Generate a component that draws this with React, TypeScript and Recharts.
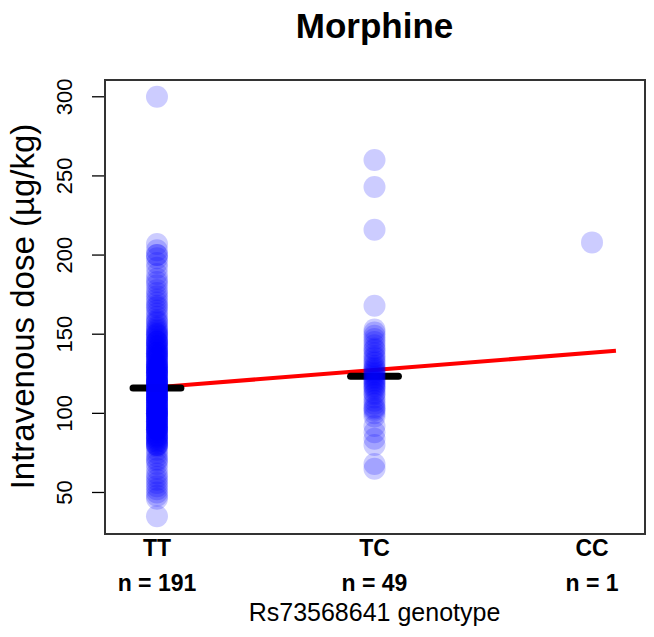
import {
  ReferenceLine,
  Scatter,
  ScatterChart,
  XAxis,
  YAxis,
} from "recharts";

const genotypes = ["TT", "TC", "CC"];
const counts = [191, 49, 1];
const xTicks = [1, 2, 3];
const yTicks = [50, 100, 150, 200, 250, 300];

// Intravenous morphine dose per patient (µg/kg)
const ttDoses = [
  300, 207, 203, 200, 200, 198, 195,
  192, 188, 185, 183, 181,
  178, 176, 174, 172, 170, 168, 167, 165, 163, 161,
  159, 158, 157, 155, 154, 153, 152, 151, 150, 150,
  149, 148, 147, 146, 145, 145, 144, 143, 142, 141, 140, 140,
  139, 138, 138, 137, 136, 135, 135, 134, 133, 132, 131, 130, 130, 130,
  129, 128, 128, 127, 126, 125, 125, 125, 124, 123, 122, 122, 121, 120, 120, 120, 120,
  119, 118, 118, 117, 116, 115, 115, 115, 114, 113, 112, 112, 111, 110, 110, 110, 110,
  109, 108, 108, 107, 106, 105, 105, 105, 104, 103, 102, 102, 101, 100, 100, 100, 100, 100,
  99, 98, 98, 97, 96, 95, 95, 95, 94, 93, 92, 92, 91, 90, 90, 90, 90,
  89, 88, 87, 86, 85, 85, 84, 83, 82, 81, 80, 80, 80,
  79, 77, 75, 73, 71, 70,
  68, 65, 62, 60, 58, 56,
  54, 52, 50, 48, 46, 35,
  145, 142, 138, 136, 133, 131, 128, 126, 124, 121, 119, 117, 116, 114, 113, 111,
  109, 107, 106, 104, 103, 101, 99, 97, 96, 94, 93, 91, 88, 86, 84, 82, 127,
];
const tcDoses = [
  260, 243, 216, 168,
  153, 151, 149, 147, 145, 143, 141, 140,
  138, 136, 135, 133, 132, 130,
  129, 128, 127, 126, 125, 124, 123, 122, 121, 120,
  119, 118, 117, 116, 115, 113, 112, 110,
  108, 106, 104, 103, 102, 100,
  98, 92, 88, 84, 80, 68, 65,
];
const ccDoses = [208];

const groupMeans = [116, 123.5];
const meanHalfWidth = 0.11;
const fitX = [0.89, 3.11];
const fitY = [115.3, 139.5];

const FONT = '"Liberation Sans", Arial, Helvetica, sans-serif';

const toPoints = (vals: number[], x: number) => vals.map((y) => ({ x, y }));

const Dot = (p: any) => (
  <circle cx={p.cx} cy={p.cy} r={11} fill="#0000ff" fillOpacity={0.2} />
);

function GenotypeTick({ x, y, payload }: any) {
  const i = xTicks.indexOf(payload.value);
  const st = { fontFamily: FONT, fontWeight: 700, fontSize: 23 };
  return (
    <g>
      <text x={x} y={y + 23} textAnchor="middle" fill="#000" style={st}>
        {genotypes[i]}
      </text>
      <text x={x} y={y + 58} textAnchor="middle" fill="#000" style={st}>
        n = {counts[i]}
      </text>
    </g>
  );
}

function DoseTick({ x, y, payload }: any) {
  const bx = x - 18;
  return (
    <text
      x={bx}
      y={y}
      transform={`rotate(-90, ${bx}, ${y})`}
      textAnchor="middle"
      fill="#000"
      style={{ fontFamily: FONT, fontSize: 22 }}
    >
      {payload.value}
    </text>
  );
}

export default function App() {
  return (
    <div
      style={{
        position: "absolute",
        left: 0,
        top: 0,
        width: 654,
        height: 637,
        background: "#fff",
      }}
    >
      <div
        style={{
          position: "absolute",
          left: 105,
          width: 539,
          top: 6,
          textAlign: "center",
          fontFamily: FONT,
          fontWeight: "bold",
          fontSize: 35,
          lineHeight: "40px",
        }}
      >
        Morphine
      </div>
      <ScatterChart
        width={654}
        height={637}
        margin={{ top: 80, right: 10, bottom: 0, left: 0 }}
      >
        <XAxis
          type="number"
          dataKey="x"
          domain={[0.761, 3.239]}
          ticks={xTicks}
          allowDataOverflow
          height={104}
          axisLine={false}
          tickLine={false}
          tickSize={0}
          tickMargin={0}
          tick={<GenotypeTick />}
          label={{
            content: ({ viewBox }: any) => (
              <text
                x={viewBox.x + viewBox.width / 2}
                y={viewBox.y + 88}
                textAnchor="middle"
                fill="#000"
                style={{ fontFamily: FONT, fontSize: 25 }}
              >
                Rs73568641 genotype
              </text>
            ),
          }}
        />
        <YAxis
          type="number"
          dataKey="y"
          domain={[24.4, 310.6]}
          ticks={yTicks}
          allowDataOverflow
          width={105}
          axisLine={false}
          tickLine={{ stroke: "#000", strokeWidth: 1.3 }}
          tickSize={13}
          tickMargin={2}
          tick={<DoseTick />}
          label={{
            content: ({ viewBox }: any) => {
              const cx = 34;
              const cy = viewBox.y + viewBox.height / 2;
              return (
                <text
                  x={cx}
                  y={cy}
                  transform={`rotate(-90, ${cx}, ${cy})`}
                  textAnchor="middle"
                  fill="#000"
                  style={{ fontFamily: FONT, fontSize: 33 }}
                >
                  Intravenous dose (µg/kg)
                </text>
              );
            },
          }}
        />
        <Scatter
          data={toPoints(ttDoses, xTicks[0])}
          shape={Dot}
          isAnimationActive={false}
        />
        <Scatter
          data={toPoints(tcDoses, xTicks[1])}
          shape={Dot}
          isAnimationActive={false}
        />
        <Scatter
          data={toPoints(ccDoses, xTicks[2])}
          shape={Dot}
          isAnimationActive={false}
        />
        <ReferenceLine
          segment={[
            { x: fitX[0], y: fitY[0] },
            { x: fitX[1], y: fitY[1] },
          ]}
          stroke="#ff0000"
          strokeWidth={4}
        />
        {groupMeans.map((m, i) => (
          <ReferenceLine
            key={i}
            segment={[
              { x: xTicks[i] - meanHalfWidth, y: m },
              { x: xTicks[i] + meanHalfWidth, y: m },
            ]}
            stroke="#000"
            strokeWidth={7}
            strokeLinecap="round"
          />
        ))}
      </ScatterChart>
      {/* plot frame, like R's box() */}
      <div
        style={{
          position: "absolute",
          left: 104,
          top: 79,
          width: 538,
          height: 452,
          border: "2px solid #333",
          pointerEvents: "none",
        }}
      />
    </div>
  );
}
